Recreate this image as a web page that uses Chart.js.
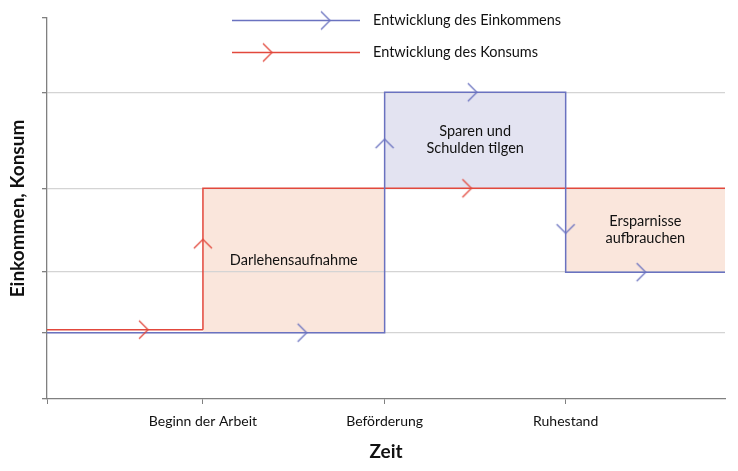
<!DOCTYPE html>
<html><head><meta charset="utf-8">
<script src="https://cdn.jsdelivr.net/npm/chart.js@4/dist/chart.umd.min.js"></script>
<style>html,body{margin:0;padding:0;background:#fff}#wrap{width:738px;height:471px}</style>
</head><body><div id="wrap"><canvas id="c"></canvas></div>
<script>
// ---- data ----
const phaseBounds = [0, 23, 49.8, 76.5, 100];
const xTickLabels = ['', 'Beginn der Arbeit', 'Beförderung', 'Ruhestand', ''];
const incomeLevels = [17.4, 17.4, 80.5, 33.3];
const consumptionLevels = [18.2, 55.3, 55.3, 55.3];
const yTickValues = [0, 17.4, 33.3, 55.3, 80.5, 100];
const regionLabels = ['', ['Darlehensaufnahme'], ['Sparen und', 'Schulden tilgen'], ['Ersparnisse', 'aufbrauchen']];
const incomeArrows = [
  {x: 38.3, y: 17.4, dir: 'right'},
  {x: 49.8, y: 68.2, dir: 'up'},
  {x: 63.4, y: 80.5, dir: 'right'},
  {x: 76.5, y: 43.5, dir: 'down'},
  {x: 88.3, y: 33.3, dir: 'right'}
];
const consumptionArrows = [
  {x: 14.9, y: 18.2, dir: 'right'},
  {x: 23, y: 41.9, dir: 'up'},
  {x: 62.6, y: 55.3, dir: 'right'}
];
const seriesNames = ['Entwicklung des Einkommens', 'Entwicklung des Konsums'];

// ---- styles ----
const BLUE = '#6a72c0';
const RED = '#e2483c';
const PEACH = '#fae6dc';
const LAVENDER = '#e3e3f1';
const GRID = '#d4d4d4';
const AXIS = '#808080';
const FONT = 'Lato';
Chart.defaults.font.family = FONT;
Chart.defaults.color = '#111';

function stepData(levels) {
  const pts = [];
  levels.forEach((v, i) => {
    pts.push({x: phaseBounds[i], y: v});
    pts.push({x: phaseBounds[i + 1], y: v});
  });
  return pts;
}
function phaseOf(xv) {
  for (let i = 0; i < phaseBounds.length - 1; i++) {
    if (xv >= phaseBounds[i] && xv < phaseBounds[i + 1]) return i;
  }
  return phaseBounds.length - 2;
}
function regionColor(ctx) {
  const mid = (ctx.p0.parsed.x + ctx.p1.parsed.x) / 2;
  const i = phaseOf(mid);
  if (!regionLabels[i]) return 'rgba(255,255,255,0)';
  return consumptionLevels[i] > incomeLevels[i] ? PEACH : LAVENDER;
}
const rotOf = {right: 0, up: -90, down: 90};
function chevron(color) {
  const c = document.createElement('canvas');
  c.width = 24; c.height = 24;
  const g = c.getContext('2d');
  g.strokeStyle = color; g.lineWidth = 1.3;
  g.beginPath(); g.moveTo(3, 3); g.lineTo(12, 12); g.lineTo(3, 21); g.stroke();
  return c;
}
const chevBlue = chevron(BLUE), chevRed = chevron(RED);

const regionPlugin = {
  id: 'regions',
  afterDatasetsDraw(chart) {
    const {ctx, scales: {x, y}} = chart;
    ctx.save();
    ctx.font = '14.5px ' + FONT;
    ctx.fillStyle = '#111';
    ctx.textAlign = 'center';
    ctx.textBaseline = 'middle';
    regionLabels.forEach((lines, i) => {
      if (!lines) return;
      const cx = (x.getPixelForValue(phaseBounds[i]) + x.getPixelForValue(phaseBounds[i + 1])) / 2;
      const cy = (y.getPixelForValue(incomeLevels[i]) + y.getPixelForValue(consumptionLevels[i])) / 2;
      const lh = 17;
      lines.forEach((t, k) => ctx.fillText(t, cx, cy + (k - (lines.length - 1) / 2) * lh));
    });
    ctx.restore();
  }
};
const legendPlugin = {
  id: 'customLegend',
  afterDraw(chart) {
    const ctx = chart.ctx;
    const items = [
      {color: BLUE, img: chevBlue, y: 20.5, tip: 330},
      {color: RED, img: chevRed, y: 52.5, tip: 272}
    ];
    ctx.save();
    items.forEach((it, i) => {
      ctx.strokeStyle = it.color; ctx.lineWidth = 1.3;
      ctx.beginPath(); ctx.moveTo(232, it.y); ctx.lineTo(360, it.y); ctx.stroke();
      ctx.drawImage(it.img, it.tip - 12, it.y - 12);
      ctx.font = '14.5px ' + FONT;
      ctx.fillStyle = '#111';
      ctx.textAlign = 'left'; ctx.textBaseline = 'middle';
      ctx.fillText(seriesNames[i], 373, it.y);
    });
    ctx.restore();
  }
};

new Chart(document.getElementById('c'), {
  type: 'line',
  data: {
    datasets: [
      {type: 'scatter', label: 'arrowsIncome', data: incomeArrows.map(a => ({x: a.x, y: a.y, rot: rotOf[a.dir]})),
        pointStyle: chevBlue, pointRadius: 12, pointRotation: c => c.raw ? c.raw.rot : 0, showLine: false},
      {type: 'scatter', label: 'arrowsConsumption', data: consumptionArrows.map(a => ({x: a.x, y: a.y, rot: rotOf[a.dir]})),
        pointStyle: chevRed, pointRadius: 12, pointRotation: c => c.raw ? c.raw.rot : 0, showLine: false},
      {label: seriesNames[0], data: stepData(incomeLevels), borderColor: BLUE, borderWidth: 1.5,
        pointRadius: 0, fill: false, tension: 0},
      {label: seriesNames[1], data: stepData(consumptionLevels), borderColor: RED, borderWidth: 1.5,
        pointRadius: 0, tension: 0, fill: 2, backgroundColor: PEACH,
        segment: {backgroundColor: regionColor}}
    ]
  },
  options: {
    responsive: true, maintainAspectRatio: false, animation: false,
    layout: {padding: {top: 18, right: 10, left: 0, bottom: 0}},
    plugins: {legend: {display: false}, tooltip: {enabled: false}, filler: {drawTime: 'beforeDraw'}},
    scales: {
      x: {
        type: 'linear', min: 0, max: 100,
        afterBuildTicks: ax => { ax.ticks = phaseBounds.map(v => ({value: v})); },
        afterFit: ax => { ax.height = 72; ax.paddingRight = 0; ax.paddingLeft = 0; },
        ticks: {autoSkip: false, maxRotation: 0, padding: 9, font: {size: 14}, color: '#111',
          callback: (v, i) => xTickLabels[i]},
        grid: {drawOnChartArea: false, tickLength: 5, color: AXIS,
          tickColor: c => c.index === phaseBounds.length - 1 ? 'rgba(0,0,0,0)' : AXIS},
        border: {color: AXIS, width: 1.3},
        title: {display: true, text: 'Zeit', font: {size: 19, weight: 'bold'}, color: '#111', padding: {top: 8, bottom: 8}}
      },
      y: {
        type: 'linear', min: 0, max: 100,
        afterBuildTicks: ax => { ax.ticks = yTickValues.map(v => ({value: v})); },
        afterFit: ax => { ax.width = 47; },
        ticks: {display: false},
        grid: {tickLength: 5, tickColor: AXIS,
          color: c => (c.tick && (c.tick.value === 0 || c.tick.value === 100)) ? 'rgba(0,0,0,0)' : GRID, lineWidth: 1.3},
        border: {color: AXIS, width: 1.3},
        title: {display: true, text: 'Einkommen, Konsum', font: {size: 19, weight: 'bold'}, color: '#111', padding: {top: 6, bottom: 4}}
      }
    }
  },
  plugins: [regionPlugin, legendPlugin]
});
</script>
</body></html>
